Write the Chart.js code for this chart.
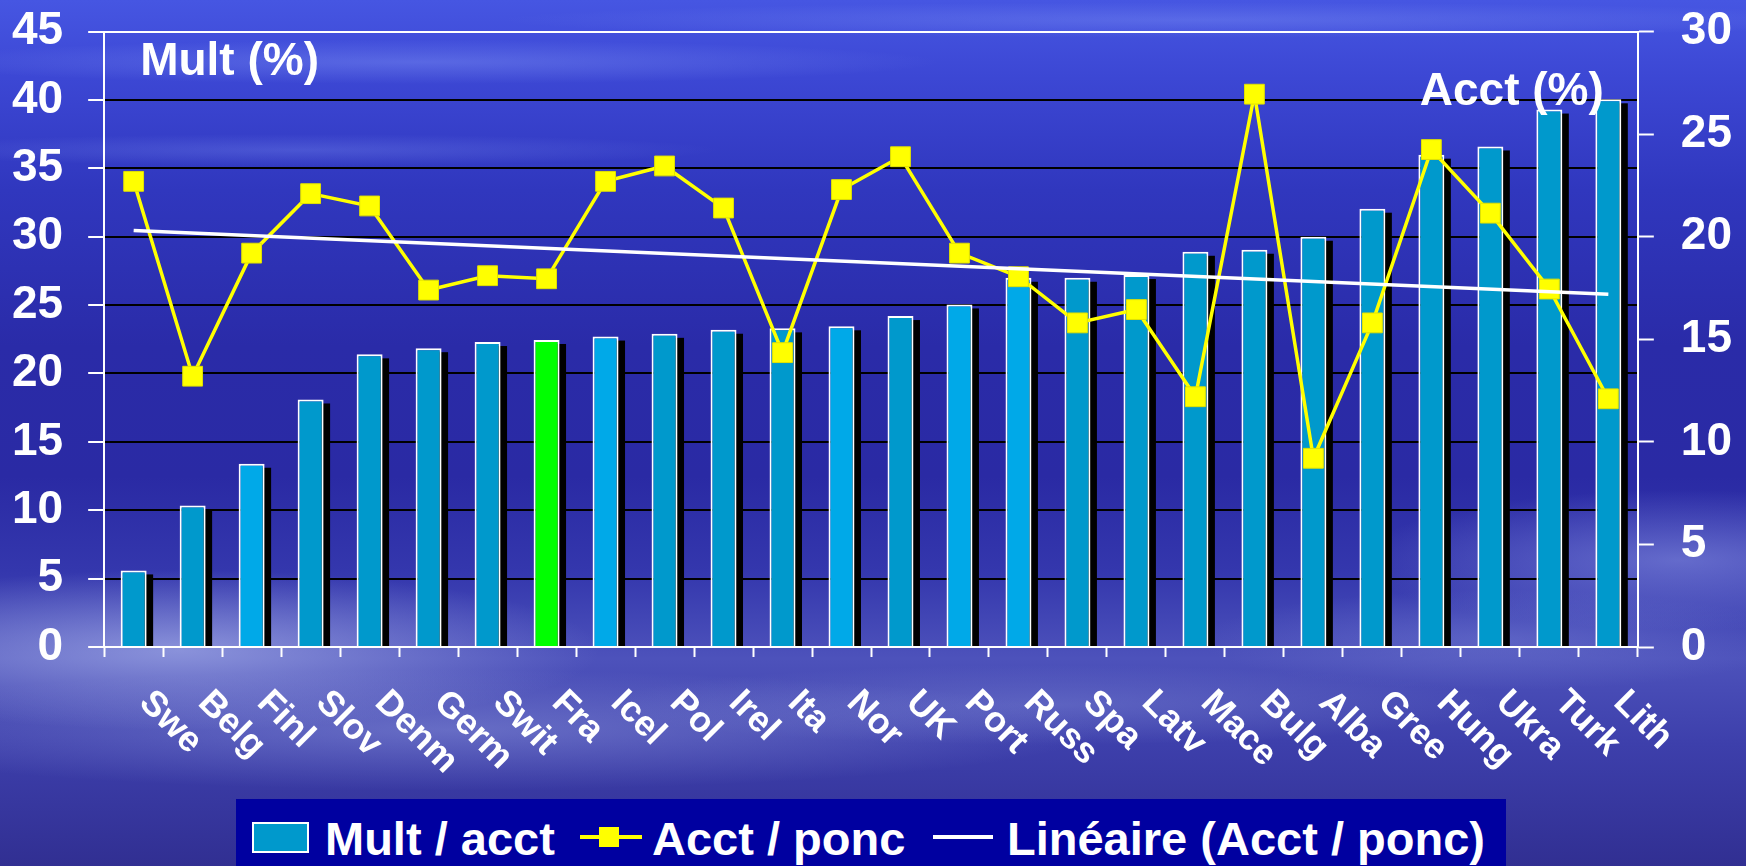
<!DOCTYPE html>
<html lang="fr">
<head>
    <meta charset="UTF-8">
    <title>Mult / Acct</title>
    <script src="https://cdn.jsdelivr.net/npm/chart.js"></script>
    <style>
        body {
            margin: 0;
            width: 1746px;
            height: 866px;
            overflow: hidden;
            position: relative;
            font-family: "Liberation Sans", Arial, sans-serif;
            background:
                radial-gradient(ellipse 520px 22px at 420px 62px, rgba(140,160,250,0.35), transparent),
                radial-gradient(ellipse 700px 18px at 1200px 20px, rgba(140,160,250,0.30), transparent),
                radial-gradient(ellipse 420px 16px at 300px 150px, rgba(140,160,250,0.25), transparent),
                radial-gradient(ellipse 420px 80px at 180px 650px, rgba(180,190,240,0.60), transparent),
                radial-gradient(ellipse 650px 60px at 450px 730px, rgba(150,160,225,0.45), transparent),
                radial-gradient(ellipse 320px 70px at 1680px 560px, rgba(150,160,235,0.50), transparent),
                radial-gradient(ellipse 450px 40px at 1050px 705px, rgba(130,140,215,0.40), transparent),
                radial-gradient(ellipse 300px 50px at 1500px 640px, rgba(130,140,220,0.35), transparent),
                linear-gradient(180deg, #4656e2 0%, #3c47d4 9%, #3037be 22%, #2a2ba8 40%, #2a2aa4 55%, #3437ad 66%, #4d52bb 76%, #3d3fab 86%, #312f92 100%);
        }
        #chart {
            position: absolute;
            left: 0;
            top: 0;
        }
        #legend {
            position: absolute;
            left: 236px;
            top: 799px;
            width: 1270px;
            height: 67px;
            background: #0000a0;
        }
        #legend span {
            position: absolute;
            top: 16px;
            font: bold 47px/47px "Liberation Sans", Arial, sans-serif;
            color: #fff;
            white-space: nowrap;
        }
        #legend div {
            position: absolute;
            box-sizing: border-box;
        }
    </style>
</head>
<body>
<canvas id="chart" width="1746" height="866"></canvas>

<div id="legend">
    <div style="left:16px; top:23px; width:57px; height:31px; background:#0099cc; border:2px solid #fff;"></div>
    <span id="leg0" style="left:89px;"></span>
    <div style="left:344px; top:36px; width:62px; height:4px; background:#ffff00;"></div>
    <div style="left:363px; top:28px; width:20px; height:20px; background:#ffff00;"></div>
    <span id="leg1" style="left:416px;"></span>
    <div style="left:697px; top:36px; width:60px; height:4px; background:#fff;"></div>
    <span id="leg2" style="left:771px;"></span>
</div>

<script>
    const countries = ['Swe', 'Belg', 'Finl', 'Slov', 'Denm', 'Germ', 'Swit', 'Fra', 'Icel', 'Pol',
        'Irel', 'Ita', 'Nor', 'UK', 'Port', 'Russ', 'Spa', 'Latv', 'Mace', 'Bulg',
        'Alba', 'Gree', 'Hung', 'Ukra', 'Turk', 'Lith'];

    // Mult / acct (%), left axis
    const multAcct = [5.6, 10.35, 13.4, 18.1, 21.4, 21.85, 22.3, 22.45, 22.7, 22.9,
        23.2, 23.3, 23.45, 24.2, 25.05, 27.0, 27.0, 27.2, 28.9, 29.05,
        30.0, 32.05, 36.0, 36.6, 39.3, 40.05];

    // Acct / ponc (%), right axis
    const acctPonc = [22.7, 13.2, 19.2, 22.1, 21.5, 17.4, 18.1, 17.95, 22.7, 23.45,
        21.4, 14.35, 22.3, 23.9, 19.2, 18.05, 15.8, 16.45, 12.2, 26.95,
        9.2, 15.8, 24.25, 21.15, 17.45, 12.1];

    // Linéaire (Acct / ponc): ends of the trend line
    const trendCountries = ['Swe', 'Lith'];
    const trendValues = [20.3, 17.2];

    const leftTicks = { min: 0, max: 45, step: 5 };
    const rightTicks = { min: 0, max: 30, step: 5 };

    const lightBars = ['Finl', 'Icel', 'Nor', 'Port', 'Russ'];
    const highlightBar = 'Fra';

    // small lineHeight so the top label does not push the plot down
    const tickFont = { family: '"Liberation Sans", Arial, sans-serif', size: 46, weight: 'bold', lineHeight: 0.2 };

    const barShadow = {
        id: 'barShadow',
        beforeDatasetsDraw(chart) {
            const ctx = chart.ctx;
            const meta = chart.getDatasetMeta(2);
            ctx.save();
            ctx.fillStyle = '#000';
            meta.data.forEach(bar => {
                const p = bar.getProps(['x', 'y', 'base', 'width'], true);
                ctx.fillRect(p.x - p.width / 2 + 6.5, p.y + 4, p.width, p.base - p.y - 4);
            });
            ctx.restore();
        }
    };

    const extraText = {
        id: 'extraText',
        afterDraw(chart) {
            const { ctx, chartArea, scales } = chart;
            const x = scales.x;
            ctx.save();
            ctx.fillStyle = '#fff';

            // rotated category labels
            ctx.font = 'bold 36px "Liberation Sans", Arial, sans-serif';
            ctx.textAlign = 'left';
            ctx.textBaseline = 'alphabetic';
            countries.forEach((name, i) => {
                ctx.save();
                ctx.translate(x.getPixelForValue(i) + 4, x.bottom + 47);
                ctx.rotate(Math.PI / 4);
                ctx.fillText(name, 0, 0);
                ctx.restore();
            });

            // axis captions inside the plot
            ctx.font = 'bold 46px "Liberation Sans", Arial, sans-serif';
            ctx.textAlign = 'left';
            ctx.fillText('Mult (%)', chartArea.left + 36, 75);
            ctx.textAlign = 'right';
            ctx.fillText('Acct (%)', chartArea.right - 34, 105);
            ctx.restore();
        }
    };

    const chart = new Chart(document.getElementById('chart'), {
        data: {
            labels: countries,
            datasets: [
                {
                    type: 'line',
                    label: 'Acct / ponc',
                    data: acctPonc,
                    yAxisID: 'y1',
                    borderColor: '#ffff00',
                    borderWidth: 3.5,
                    pointStyle: 'rect',
                    pointRadius: 14,
                    pointBackgroundColor: '#ffff00',
                    pointBorderColor: '#e2e200',
                    pointBorderWidth: 1,
                    tension: 0,
                    order: 1
                },
                {
                    type: 'line',
                    label: 'Linéaire (Acct / ponc)',
                    data: trendCountries.map((c, i) => ({ x: c, y: trendValues[i] })),
                    yAxisID: 'y1',
                    borderColor: '#ffffff',
                    borderWidth: 3.5,
                    pointRadius: 0,
                    order: 0
                },
                {
                    type: 'bar',
                    label: 'Mult / acct',
                    data: multAcct,
                    yAxisID: 'y',
                    backgroundColor: ctx => {
                        const name = countries[ctx.dataIndex];
                        if (name === highlightBar) return '#00ff00';
                        return lightBars.includes(name) ? '#00a9e8' : '#0099cc';
                    },
                    borderColor: '#ffffff',
                    borderWidth: 2,
                    categoryPercentage: 1,
                    barPercentage: 0.44,
                    order: 2
                }
            ]
        },
        options: {
            responsive: false,
            animation: false,
            devicePixelRatio: 1,
            // ticks.padding is counted twice by the scale fit, hence the negative sides
            layout: { padding: { left: -13, right: -13, top: 30, bottom: 209 } },
            plugins: {
                legend: { display: false },
                tooltip: { enabled: false }
            },
            scales: {
                x: {
                    type: 'category',
                    offset: true,
                    grid: {
                        offset: true,
                        drawOnChartArea: false,
                        drawTicks: true,
                        tickLength: 10,
                        tickColor: '#ffffff',
                        tickWidth: 2
                    },
                    border: { color: '#ffffff', width: 2 },
                    ticks: { display: false }
                },
                y: {
                    position: 'left',
                    min: leftTicks.min,
                    max: leftTicks.max,
                    ticks: {
                        stepSize: leftTicks.step,
                        color: '#ffffff',
                        font: tickFont,
                        padding: 25
                    },
                    grid: {
                        color: ctx => (ctx.tick.value === leftTicks.max || ctx.tick.value === 0) ? '#ffffff' : '#000000',
                        lineWidth: 2,
                        tickColor: '#ffffff',
                        tickLength: 16,
                        tickWidth: 2
                    },
                    border: { color: '#ffffff', width: 2 }
                },
                y1: {
                    position: 'right',
                    min: rightTicks.min,
                    max: rightTicks.max,
                    ticks: {
                        stepSize: rightTicks.step,
                        color: '#ffffff',
                        font: tickFont,
                        padding: 27
                    },
                    grid: {
                        drawOnChartArea: false,
                        tickColor: '#ffffff',
                        tickLength: 16,
                        tickWidth: 2
                    },
                    border: { color: '#ffffff', width: 2 }
                }
            }
        },
        plugins: [barShadow, extraText]
    });

    // legend texts come from the dataset labels
    document.getElementById('leg0').textContent = chart.data.datasets[2].label;
    document.getElementById('leg1').textContent = chart.data.datasets[0].label;
    document.getElementById('leg2').textContent = chart.data.datasets[1].label;
</script>
</body>
</html>
